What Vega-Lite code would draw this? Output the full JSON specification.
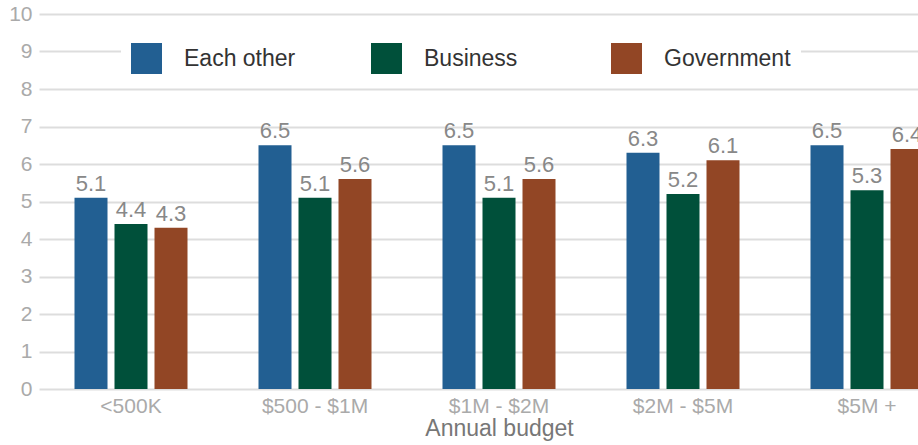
{
  "$schema": "https://vega.github.io/schema/vega-lite/v6.json",
  "autosize": {"type": "none"},
  "padding": {"left": 39, "top": 14, "right": 0, "bottom": 56},
  "width": 879,
  "height": 375,
  "background": "white",
  "config": {
    "font": "Liberation Sans",
    "view": {"stroke": null}
  },
  "data": {
    "values": [
      {"budget": "<500K", "group": "Each other", "value": 5.1},
      {"budget": "<500K", "group": "Business", "value": 4.4},
      {"budget": "<500K", "group": "Government", "value": 4.3},
      {"budget": "$500 - $1M", "group": "Each other", "value": 6.5},
      {"budget": "$500 - $1M", "group": "Business", "value": 5.1},
      {"budget": "$500 - $1M", "group": "Government", "value": 5.6},
      {"budget": "$1M - $2M", "group": "Each other", "value": 6.5},
      {"budget": "$1M - $2M", "group": "Business", "value": 5.1},
      {"budget": "$1M - $2M", "group": "Government", "value": 5.6},
      {"budget": "$2M - $5M", "group": "Each other", "value": 6.3},
      {"budget": "$2M - $5M", "group": "Business", "value": 5.2},
      {"budget": "$2M - $5M", "group": "Government", "value": 6.1},
      {"budget": "$5M +", "group": "Each other", "value": 6.5},
      {"budget": "$5M +", "group": "Business", "value": 5.3},
      {"budget": "$5M +", "group": "Government", "value": 6.4}
    ]
  },
  "encoding": {
    "x": {
      "field": "budget", "type": "nominal", "sort": null,
      "scale": {"range": [0, 920], "paddingInner": 0, "paddingOuter": 0},
      "axis": {
        "title": "Annual budget", "titleFontSize": 23, "titleFontWeight": "normal",
        "titleColor": "#777777", "titlePadding": 1,
        "labelFontSize": 21, "labelColor": "#aaaaaa", "labelPadding": 6,
        "labelAngle": 0, "ticks": false, "tickSize": 0, "domain": false
      }
    },
    "xOffset": {
      "field": "group", "type": "nominal", "sort": ["Each other", "Business", "Government"],
      "scale": {"paddingInner": 0.175, "paddingOuter": 0.8875}
    },
    "y": {
      "field": "value", "type": "quantitative",
      "scale": {"domain": [0, 10], "nice": false},
      "axis": {
        "title": null, "values": [0,1,2,3,4,5,6,7,8,9,10],
        "labelFontSize": 21, "labelColor": "#aaaaaa", "labelPadding": 7,
        "ticks": false, "tickSize": 0, "domain": false,
        "grid": true, "gridColor": "#dddddd", "gridWidth": 2
      }
    }
  },
  "layer": [
    {
      "mark": {"type": "bar", "clip": true},
      "encoding": {
        "color": {
          "field": "group", "type": "nominal",
          "sort": ["Each other", "Business", "Government"],
          "scale": {"domain": ["Each other", "Business", "Government"], "range": ["#225f92", "#00503a", "#924625"]},
          "legend": {
            "title": null, "orient": "none", "direction": "horizontal", "columns": 3,
            "legendX": 82, "legendY": 19, "padding": 10, "fillColor": "white",
            "symbolType": "square", "symbolSize": 961, "symbolStrokeWidth": 0,
            "symbolOpacity": 1,
            "labelFontSize": 23, "labelColor": "#333333", "labelOffset": 22,
            "gridAlign": "all", "columnPadding": 60, "labelLimit": 300
          }
        }
      }
    },
    {
      "mark": {"type": "text", "clip": true, "baseline": "bottom", "dy": -2, "fontSize": 22, "color": "#888888"},
      "encoding": {
        "text": {"field": "value", "type": "quantitative", "format": ".1f"}
      }
    }
  ]
}
